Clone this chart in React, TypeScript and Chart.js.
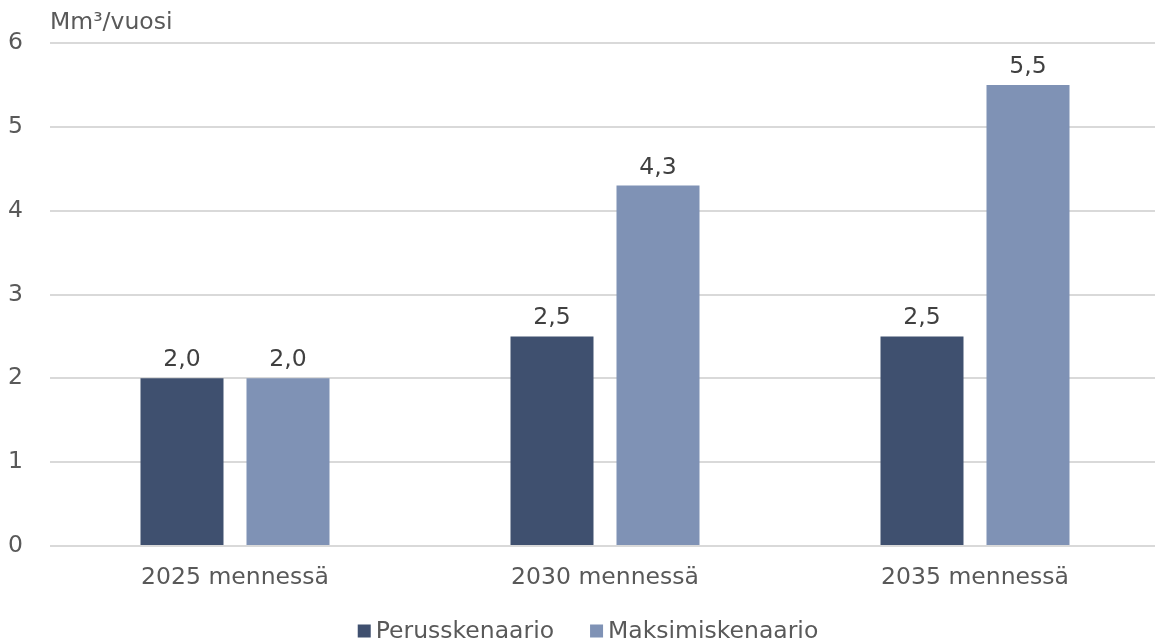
import React, { useEffect, useRef } from "react";
import { Chart, registerables } from "chart.js";

Chart.register(...registerables);

const categories = ["2025 mennessä", "2030 mennessä", "2035 mennessä"];
const seriesNames = ["Perusskenaario", "Maksimiskenaario"];
const perusValues = [2.0, 2.5, 2.5];
const maksimiValues = [2.0, 4.3, 5.5];
const seriesColors = ["#3F506F", "#7F92B5"];
const yTicks = [0, 1, 2, 3, 4, 5, 6];
const yTitle = "Mm³/vuosi";

const FONT = "DejaVu Sans";
const FS = 23.5;

const fmt = (v: number) => v.toFixed(1).replace(".", ",");

const overlayPlugin = {
  id: "overlay",
  afterDatasetsDraw(chart: any) {
    const ctx = chart.ctx;
    ctx.save();
    ctx.font = `${FS}px "${FONT}"`;
    ctx.fillStyle = "#404040";
    ctx.textAlign = "center";
    ctx.textBaseline = "alphabetic";
    chart.data.datasets.forEach((ds: any, di: number) => {
      const meta = chart.getDatasetMeta(di);
      meta.data.forEach((bar: any, i: number) => {
        ctx.fillText(fmt(ds.data[i]), bar.x, bar.y - 12);
      });
    });
    // y title
    ctx.fillStyle = "#595959";
    ctx.textAlign = "left";
    ctx.fillText(yTitle, chart.chartArea.left, 29);
    // legend
    const boxSize = 13;
    const gapBox = 5;
    const gapItem = 36;
    const widths = chart.data.datasets.map(
      (ds: any) => boxSize + gapBox + ctx.measureText(ds.label).width
    );
    const total = widths.reduce((a: number, b: number) => a + b, 0) + gapItem * (widths.length - 1);
    let x = 588 - total / 2;
    const cy = 631;
    chart.data.datasets.forEach((ds: any, di: number) => {
      ctx.fillStyle = ds.backgroundColor;
      ctx.fillRect(x, cy - boxSize / 2, boxSize, boxSize);
      ctx.fillStyle = "#595959";
      ctx.textBaseline = "middle";
      ctx.fillText(ds.label, x + boxSize + gapBox, cy + 1);
      x += widths[di] + gapItem;
    });
    ctx.restore();
  },
};

export default function App() {
  const ref = useRef<HTMLCanvasElement | null>(null);
  useEffect(() => {
    if (!ref.current) return;
    const chart = new Chart(ref.current, {
      type: "bar",
      data: {
        labels: categories,
        datasets: [
          {
            label: seriesNames[0],
            data: perusValues,
            backgroundColor: seriesColors[0],
            categoryPercentage: 0.573,
            barPercentage: 0.783,
          },
          {
            label: seriesNames[1],
            data: maksimiValues,
            backgroundColor: seriesColors[1],
            categoryPercentage: 0.573,
            barPercentage: 0.783,
          },
        ],
      },
      options: {
        animation: false,
        responsive: true,
        maintainAspectRatio: false,
        layout: { padding: { top: 43, left: 0, right: 0, bottom: 0 } },
        plugins: {
          legend: { display: false },
          tooltip: { enabled: false },
          title: { display: false },
        },
        scales: {
          x: {
            grid: { display: false, drawTicks: false },
            border: { display: false },
            ticks: {
              font: { family: `"${FONT}"`, size: FS },
              color: "#595959",
              padding: 18,
            },
            afterFit: (s: any) => {
              s.height = 97;
            },
          },
          y: {
            min: 0,
            max: 6,
            afterBuildTicks: (s: any) => {
              s.ticks = yTicks.map((v) => ({ value: v }));
            },
            grid: { color: "#D9D9D9", lineWidth: 2, drawTicks: false },
            border: { display: false },
            ticks: {
              font: { family: `"${FONT}"`, size: FS },
              color: "#595959",
              padding: 27,
            },
            afterFit: (s: any) => {
              s.width = 50;
            },
          },
        },
      },
      plugins: [overlayPlugin],
    });
    return () => chart.destroy();
  }, []);
  return (
    <div style={{ position: "absolute", left: 0, top: 0, width: 1155, height: 643, overflow: "hidden", background: "#fff" }}>
      <div style={{ position: "relative", width: 1160, height: 643 }}>
        <canvas ref={ref} />
      </div>
    </div>
  );
}
